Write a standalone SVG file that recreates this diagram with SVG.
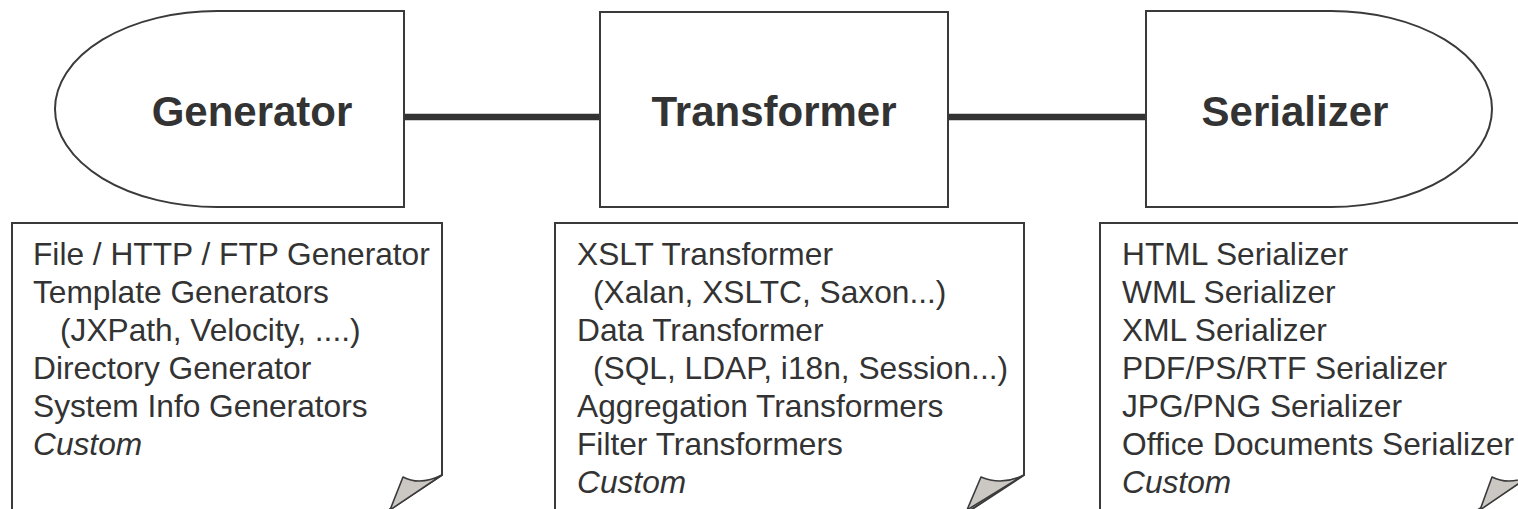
<svg xmlns="http://www.w3.org/2000/svg" width="1518" height="509" viewBox="0 0 1518 509">
<style>
.shape{fill:#fff;stroke:#3a3a3a;stroke-width:2}
.fold{fill:#cbc7c3;stroke:#3a3a3a;stroke-width:1.6;stroke-linejoin:round}
.title{font-family:"Liberation Sans",Arial,sans-serif;font-weight:bold;font-size:42px;fill:#333;text-anchor:middle}
.item{font-family:"Liberation Sans",Arial,sans-serif;font-size:31.7px;fill:#333}
.it{font-style:italic}
.conn{stroke:#333;stroke-width:6.5;fill:none}
</style>
<rect width="1518" height="509" fill="#fff"/>
<g id="connectors">
<line class="conn" x1="404" y1="117" x2="600" y2="117"/>
<line class="conn" x1="948" y1="117" x2="1146" y2="117"/>
</g>
<g id="generator">
<path class="shape" d="M404,11 H217 A162,98 0 0 0 217,207 H404 Z"/>
<text class="title" x="252" y="126">Generator</text>
</g>
<g id="transformer">
<rect class="shape" x="600" y="12" width="348" height="195"/>
<text class="title" x="774" y="126">Transformer</text>
</g>
<g id="serializer">
<path class="shape" d="M1146,11 H1331 A161,98 0 0 1 1331,207 H1146 Z"/>
<text class="title" x="1295" y="126">Serializer</text>
</g>
<g id="generator-list">
<path class="shape" d="M12,530 V223 H442 V475 L372,521"/>
<path class="fold" d="M442,475 Q420,486 403,477 L390,510 Z"/>
<text class="item" x="33" y="265">File / HTTP / FTP Generator</text>
<text class="item" x="33" y="303">Template Generators</text>
<text class="item" x="60" y="341">(JXPath, Velocity, ....)</text>
<text class="item" x="33" y="379">Directory Generator</text>
<text class="item" x="33" y="417">System Info Generators</text>
<text class="item it" x="33" y="455">Custom</text>
</g>
<g id="transformer-list">
<path class="shape" d="M555,530 V223 H1024 V475 L954,521"/>
<path class="fold" d="M1024,475 Q1002,486 981,477 L967,510 Z"/>
<text class="item" x="577" y="265">XSLT Transformer</text>
<text class="item" x="593" y="303">(Xalan, XSLTC, Saxon...)</text>
<text class="item" x="577" y="341">Data Transformer</text>
<text class="item" x="593" y="379">(SQL, LDAP, i18n, Session...)</text>
<text class="item" x="577" y="417">Aggregation Transformers</text>
<text class="item" x="577" y="455">Filter Transformers</text>
<text class="item it" x="577" y="493">Custom</text>
</g>
<g id="serializer-list">
<path class="shape" d="M1100,530 V223 H1531 V475 L1461,521"/>
<path class="fold" d="M1531,475 Q1510,486 1492,477 L1480,510 Z"/>
<text class="item" x="1122" y="265">HTML Serializer</text>
<text class="item" x="1122" y="303">WML Serializer</text>
<text class="item" x="1122" y="341">XML Serializer</text>
<text class="item" x="1122" y="379">PDF/PS/RTF Serializer</text>
<text class="item" x="1122" y="417">JPG/PNG Serializer</text>
<text class="item" x="1122" y="455">Office Documents Serializer</text>
<text class="item it" x="1122" y="493">Custom</text>
</g>
</svg>
